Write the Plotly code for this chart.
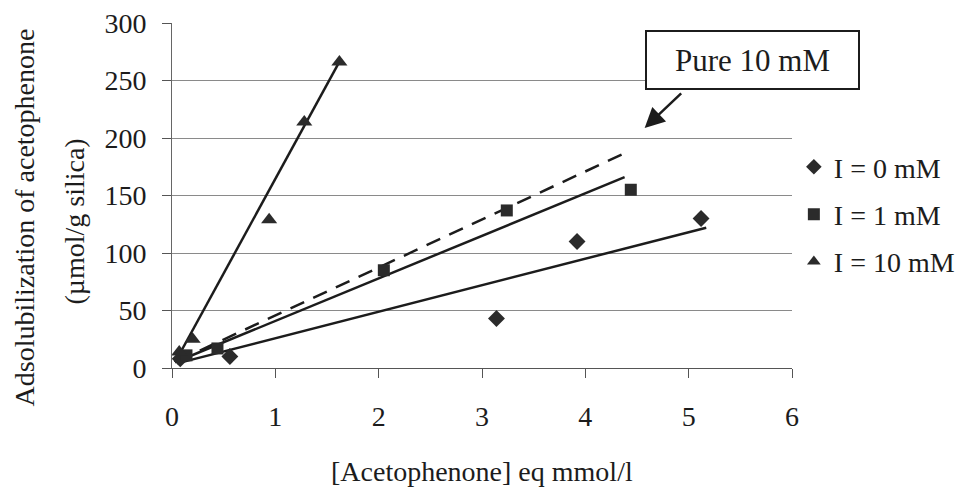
import plotly.graph_objects as go

# ---- data ----
x_i0 = [0.08, 0.56, 3.14, 3.92, 5.12]
y_i0 = [8, 10, 43, 110, 130]
x_i1 = [0.14, 0.44, 2.05, 3.24, 4.44]
y_i1 = [11, 17, 85, 137, 155]
x_i10 = [0.07, 0.20, 0.94, 1.28, 1.62]
y_i10 = [14, 25, 129, 214, 266]

# trend lines (start/end)
fit_i0_x = [0.05, 5.17]
fit_i0_y = [4, 122]
fit_i1_x = [0.03, 4.38]
fit_i1_y = [5, 166]
fit_i10_x = [0.03, 1.63]
fit_i10_y = [5, 268]
pure_x = [0.05, 4.41]
pure_y = [6, 188]

series_names = ["I = 0 mM", "I = 1 mM", "I = 10 mM"]
x_ticks = [0, 1, 2, 3, 4, 5, 6]
y_ticks = [0, 50, 100, 150, 200, 250, 300]

FONT = "Liberation Serif"
INK = "#1c1c1c"
FS = 28

fig = go.Figure()

line_style = dict(color=INK, width=2.5)
for fx, fy in [(fit_i0_x, fit_i0_y), (fit_i1_x, fit_i1_y), (fit_i10_x, fit_i10_y)]:
    fig.add_trace(go.Scatter(x=fx, y=fy, mode="lines", line=line_style,
                             showlegend=False, hoverinfo="skip"))
fig.add_trace(go.Scatter(x=pure_x, y=pure_y, mode="lines",
                         line=dict(color=INK, width=2.5, dash="15px,10px"),
                         showlegend=False, hoverinfo="skip"))

for xs, ys, name, sym, sz, grp in [
    (x_i0, y_i0, series_names[0], "diamond", 13, "a"),
    (x_i1, y_i1, series_names[1], "square", 12, "b"),
    (x_i10, y_i10, series_names[2], "triangle-up", 14, "c"),
]:
    fig.add_trace(go.Scatter(x=xs, y=ys, mode="markers", name=name,
                             legendgroup=grp,
                             marker=dict(symbol=sym, size=sz, color="#2b2b2b",
                                         line=dict(width=0))))

fig.update_layout(
    width=960, height=487,
    margin=dict(l=172, r=168, t=23, b=119, autoexpand=False),
    paper_bgcolor="white", plot_bgcolor="white",
    font=dict(family=FONT, size=FS, color=INK),
    showlegend=True,
    legend=dict(x=1.003, xanchor="left", y=0.655, yanchor="top",
                traceorder="grouped", tracegroupgap=8,
                itemsizing="constant",
                font=dict(family=FONT, size=FS, color=INK),
                bgcolor="rgba(0,0,0,0)"),
)

fig.update_xaxes(range=[0, 6], tickvals=x_ticks, showgrid=False,
                 showline=True, linecolor="#555", linewidth=1,
                 ticks="outside", ticklen=9, tickcolor="#555",
                 ticklabelstandoff=14, zeroline=False, automargin=False)
fig.update_yaxes(range=[0, 300], tickvals=y_ticks, showgrid=True,
                 gridcolor="#8a8a8a", gridwidth=1,
                 showline=True, linecolor="#666", linewidth=1,
                 ticks="outside", ticklen=9, tickcolor="#555",
                 ticklabelstandoff=10, zeroline=False, automargin=False)

# axis titles
fig.add_annotation(text="Adsolubilization of acetophenone", textangle=-90,
                   xref="paper", yref="paper", x=(25 - 172.5) / 620, y=0.435,
                   xanchor="center", yanchor="middle", showarrow=False,
                   font=dict(family=FONT, size=FS, color=INK))
fig.add_annotation(text="(µmol/g silica)", textangle=-90,
                   xref="paper", yref="paper", x=(75 - 172.5) / 620, y=0.423,
                   xanchor="center", yanchor="middle", showarrow=False,
                   font=dict(family=FONT, size=FS, color=INK))
fig.add_annotation(text="[Acetophenone] eq mmol/l",
                   xref="paper", yref="paper", x=0.5, y=-0.30,
                   xanchor="center", yanchor="middle", showarrow=False,
                   font=dict(family=FONT, size=FS, color=INK))

# callout box and arrow
fig.add_annotation(text="Pure 10 mM", xref="x", yref="y", x=5.613, y=267.4,
                   xanchor="center", yanchor="middle", showarrow=False,
                   width=209, height=54, borderpad=1, borderwidth=2,
                   bordercolor=INK, bgcolor="white",
                   font=dict(family=FONT, size=31, color=INK))
fig.add_annotation(text="", xref="x", yref="y", x=4.574, y=208.7,
                   axref="x", ayref="y", ax=4.942, ay=240,
                   showarrow=True, arrowhead=2, arrowsize=1.6,
                   arrowwidth=2.5, arrowcolor=INK)

fig.write_html("out.html")
